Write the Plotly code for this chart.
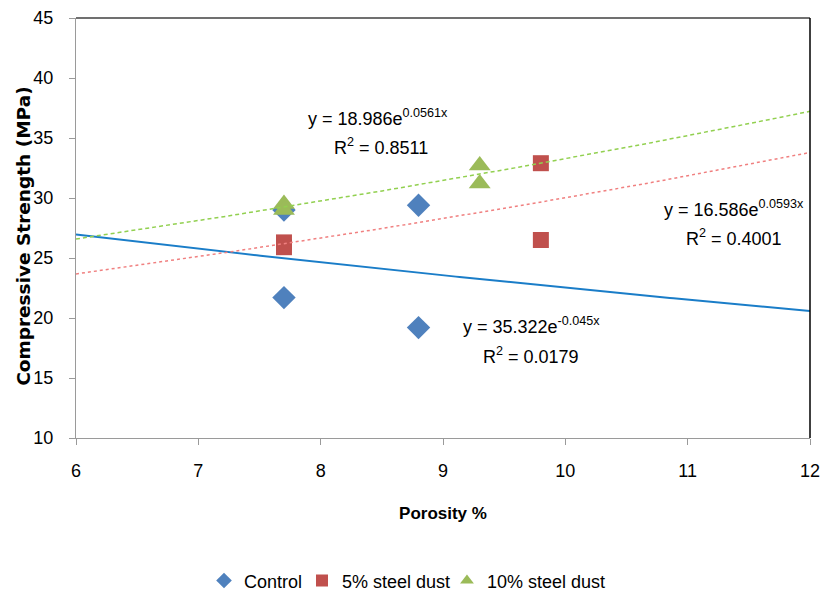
import numpy as np
import plotly.graph_objects as go

# ---- data ----
control_x = [7.7, 7.7, 8.8, 8.8]
control_y = [21.7, 29.0, 29.4, 19.2]
steel5_x = [7.7, 7.7, 9.8, 9.8]
steel5_y = [26.3, 25.9, 32.9, 26.5]
steel10_x = [7.7, 7.7, 9.3, 9.3]
steel10_y = [29.5, 29.0, 32.7, 31.2]

# trendline coefficients (y = a * exp(b x)) as printed on the chart
control_fit = (35.322, -0.045)
steel5_fit = (16.586, 0.0593)
steel10_fit = (18.986, 0.0561)

x_ticks = [6, 7, 8, 9, 10, 11, 12]
y_ticks = [10, 15, 20, 25, 30, 35, 40, 45]

FONT = "Liberation Sans, Arial, sans-serif"

fig = go.Figure()

xs = np.linspace(6, 12, 200)

def trend(fit):
    a, b = fit
    return a * np.exp(b * xs)

fig.add_trace(go.Scatter(x=control_x, y=control_y, mode="markers", name="Control",
                         legend="legend",
                         marker=dict(symbol="diamond", size=18, color="#4F81BD")))
fig.add_trace(go.Scatter(x=steel5_x, y=steel5_y, mode="markers", name="5% steel dust",
                         legend="legend2",
                         marker=dict(symbol="square", size=16, color="#C0504D")))
fig.add_trace(go.Scatter(x=steel10_x, y=steel10_y, mode="markers", name="10% steel dust",
                         legend="legend3",
                         marker=dict(symbol="triangle-up", size=19, color="#9BBB59")))

fig.add_trace(go.Scatter(x=xs, y=trend(control_fit), mode="lines", showlegend=False,
                         line=dict(color="#1A7DC8", width=2)))
fig.add_trace(go.Scatter(x=xs, y=trend(steel5_fit), mode="lines", showlegend=False,
                         line=dict(color="#F08080", width=1.5, dash="dot")))
fig.add_trace(go.Scatter(x=xs, y=trend(steel10_fit), mode="lines", showlegend=False,
                         line=dict(color="#92D050", width=1.5, dash="4px,3px")))

ann_font = dict(family=FONT, size=18, color="#000000")
anns = [
    (8.47, 36.7, "y = 18.986e<sup>0.0561x</sup>"),
    (8.49, 34.3, "R<sup>2</sup> = 0.8511"),
    (11.38, 29.1, "y = 16.586e<sup>0.0593x</sup>"),
    (11.38, 26.7, "R<sup>2</sup> = 0.4001"),
    (9.72, 19.4, "y = 35.322e<sup>-0.045x</sup>"),
    (9.72, 16.9, "R<sup>2</sup> = 0.0179"),
]
for x, y, t in anns:
    fig.add_annotation(x=x, y=y, text=t, showarrow=False, font=ann_font,
                       xanchor="center", yanchor="middle")

# y-axis title
fig.add_annotation(xref="paper", yref="paper", x=-0.071, y=0.481,
                   text="<b>Compressive Strength (MPa)</b>", textangle=-90,
                   showarrow=False, xanchor="center", yanchor="middle",
                   font=dict(family="DejaVu Sans", size=18.5, color="#000000"))

# top and right border of plot area
fig.add_shape(type="line", xref="x domain", yref="y domain", x0=0, x1=1, y0=1, y1=1,
              line=dict(color="#404040", width=1.5))
fig.add_shape(type="line", xref="x domain", yref="y domain", x0=1, x1=1, y0=0, y1=1,
              line=dict(color="#000000", width=1.5))

leg_common = dict(orientation="h", xanchor="left", y=-0.34, yanchor="middle",
                  font=dict(family=FONT, size=18), itemsizing="constant",
                  itemwidth=30, bgcolor="rgba(0,0,0,0)")

fig.update_layout(
    width=825, height=597,
    margin=dict(l=76, r=15, t=18, b=159, autoexpand=False),
    paper_bgcolor="white", plot_bgcolor="white",
    font=dict(family=FONT, size=18, color="#000000"),
    xaxis=dict(range=[6, 12], tickvals=x_ticks, showgrid=False, zeroline=False,
               automargin=False,
               showline=True, linecolor="#9A9A9A", linewidth=1,
               ticks="outside", ticklen=6, tickcolor="#9A9A9A",
               ticklabelstandoff=10,
               tickfont=dict(family=FONT, size=18),
               title=dict(text="<b>Porosity %</b>", font=dict(family=FONT, size=17),
                          standoff=27)),
    yaxis=dict(range=[10, 45], tickvals=y_ticks, showgrid=False, zeroline=False,
               automargin=False,
               showline=True, linecolor="#9A9A9A", linewidth=1,
               ticks="outside", ticklen=6, tickcolor="#9A9A9A",
               ticklabelstandoff=12,
               tickfont=dict(family=FONT, size=18)),
    legend=dict(x=0.1744, **leg_common),
    legend2=dict(x=0.3079, **leg_common),
    legend3=dict(x=0.5054, **leg_common),
)

fig.write_html("out.html")
